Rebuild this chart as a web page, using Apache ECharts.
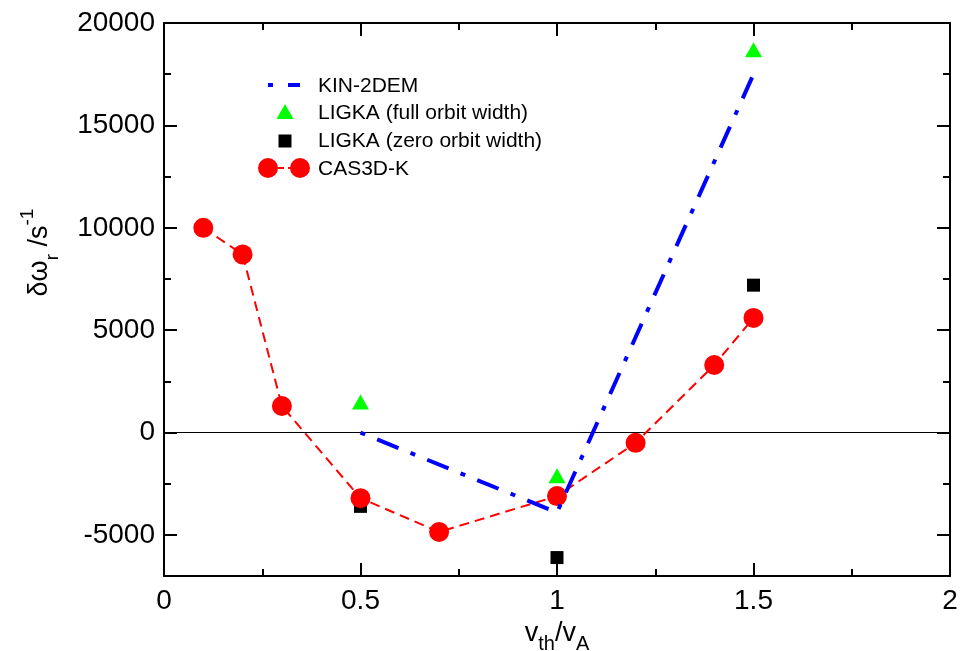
<!DOCTYPE html>
<html>
<head>
<meta charset="utf-8">
<script src="https://cdn.jsdelivr.net/npm/echarts@6/dist/echarts.min.js"></script>
<style>
html,body{margin:0;padding:0;background:#fff;}
#chart{width:963px;height:651px;}
</style>
</head>
<body>
<div id="chart"></div>
<script>
// ---- data ----
const kinX = [0.5, 1.0, 1.5];
const kinY = [0, -3900, 17500];
const ligkaFullX = [0.5, 1.0, 1.5];
const ligkaFullY = [1500, -2100, 18700];
const ligkaZeroX = [0.5, 1.0, 1.5];
const ligkaZeroY = [-3600, -6100, 7200];
const casX = [0.1, 0.2, 0.3, 0.5, 0.7, 1.0, 1.2, 1.4, 1.5];
const casY = [10000, 8700, 1300, -3200, -4850, -3100, -500, 3300, 5600];
const yMajorTicks = [-5000, 0, 5000, 10000, 15000, 20000];
const yMinorTicks = [-2500, 2500, 7500, 12500, 17500];
const xTickLabels = ['0', '0.5', '1', '1.5', '2'];
const legendNames = ['KIN-2DEM', 'LIGKA (full orbit width)', 'LIGKA (zero orbit width)', 'CAS3D-K'];

const zip = (xs, ys) => xs.map((x, i) => [x, ys[i]]);
const FONT = "'Liberation Sans', Arial, sans-serif";

const chart = echarts.init(document.getElementById('chart'), null, {renderer: 'canvas'});

function yAxisDef(pos, ticks, len, showLine, showLabel, extra) {
  return Object.assign({
    type: 'value', position: pos, min: -7000, max: 20000, gridIndex: 0,
    axisLine: {show: showLine, onZero: false, lineStyle: {color: '#000', width: 2}},
    axisTick: {show: true, inside: true, length: len, customValues: ticks, lineStyle: {color: '#000', width: 2}},
    axisLabel: {show: showLabel, customValues: ticks, formatter: v => String(v), color: '#000',
      fontSize: 28, fontFamily: FONT, margin: 9},
    splitLine: {show: false}
  }, extra || {});
}

function xAxisDef(pos, showLabel, extra) {
  return Object.assign({
    type: 'value', position: pos, min: 0, max: 2, interval: 0.5, gridIndex: 0,
    axisLine: {show: true, onZero: false, lineStyle: {color: '#000', width: 2}},
    axisTick: {show: true, inside: true, length: 13, lineStyle: {color: '#000', width: 2}},
    minorTick: {show: true, splitNumber: 2, length: 7, lineStyle: {color: '#000', width: 2}},
    axisLabel: {show: showLabel, color: '#000', fontSize: 28, fontFamily: FONT, margin: 11,
      formatter: v => xTickLabels[Math.round(v / 0.5)]},
    splitLine: {show: false}
  }, extra || {});
}

const option = {
  animation: false,
  backgroundColor: '#fff',
  grid: {left: 164, right: 13, top: 23, bottom: 75, containLabel: false, outerBoundsMode: 'none'},
  xAxis: [
    xAxisDef('bottom', true, {
      name: '{b|v}{s|th}{b|/v}{s|A}', nameLocation: 'middle', nameGap: 38,
      nameTextStyle: {color: '#000', fontFamily: FONT,
        rich: {b: {fontSize: 27, fontFamily: FONT, color: '#000', lineHeight: 40, verticalAlign: 'middle'},
               s: {fontSize: 20, fontFamily: FONT, color: '#000', lineHeight: 18, verticalAlign: 'bottom'}}}
    }),
    xAxisDef('top', false)
  ],
  yAxis: [
    yAxisDef('left', yMajorTicks, 13, true, true, {
      name: '{b|δω}{s|r}{b| /s}{p|-1}', nameLocation: 'middle', nameRotate: 90, nameGap: 102,
      nameTextStyle: {color: '#000', fontFamily: FONT, padding: [0, 0, 0, 94],
        rich: {b: {fontSize: 27, fontFamily: FONT, color: '#000', lineHeight: 44, verticalAlign: 'middle'},
               s: {fontSize: 19, fontFamily: FONT, color: '#000', lineHeight: 18, verticalAlign: 'bottom'},
               p: {fontSize: 19, fontFamily: FONT, color: '#000', lineHeight: 18, verticalAlign: 'top'}}}
    }),
    yAxisDef('left', yMinorTicks, 7, false, false),
    yAxisDef('right', yMajorTicks, 13, true, false),
    yAxisDef('right', yMinorTicks, 7, false, false)
  ],
  series: [
    {
      name: legendNames[3], type: 'line', data: zip(casX, casY), z: 3,
      symbol: 'circle', symbolSize: 20,
      itemStyle: {color: '#ff0000', opacity: 1},
      lineStyle: {color: '#ff0000', width: 2, type: [10, 6]},
      markLine: {silent: true, symbol: 'none', label: {show: false},
        lineStyle: {color: '#000', width: 1, type: 'solid'}, data: [{yAxis: 0}], z: 1}
    },
    {
      name: legendNames[0], type: 'line', data: zip(kinX, kinY), z: 4,
      symbol: 'none',
      lineStyle: {color: '#0000ff', width: 4, type: [23, 13, 5, 13], dashOffset: 36, cap: 'butt'}
    },
    {
      name: legendNames[1], type: 'scatter', data: zip(ligkaFullX, ligkaFullY), z: 5,
      symbol: 'triangle', symbolSize: [17, 15],
      itemStyle: {color: '#00ff00', opacity: 1}
    },
    {
      name: legendNames[2], type: 'scatter', data: zip(ligkaZeroX, ligkaZeroY), z: 2,
      symbol: 'rect', symbolSize: 13,
      itemStyle: {color: '#000', opacity: 1}
    }
  ],
  graphic: [
    {type: 'rect', shape: {x: 268, y: 83, width: 5, height: 4}, style: {fill: '#0000ff'}},
    {type: 'rect', shape: {x: 288, y: 83, width: 12, height: 4}, style: {fill: '#0000ff'}},
    {type: 'polygon', shape: {points: [[285, 104], [276.5, 119], [293.5, 119]]}, style: {fill: '#00ff00'}},
    {type: 'rect', shape: {x: 278.5, y: 134.5, width: 13, height: 13}, style: {fill: '#000'}},
    {type: 'line', shape: {x1: 268, y1: 168, x2: 300, y2: 168}, style: {stroke: '#ff0000', lineWidth: 2, lineDash: [6, 4]}},
    {type: 'circle', shape: {cx: 268, cy: 168, r: 10}, style: {fill: '#ff0000'}},
    {type: 'circle', shape: {cx: 300, cy: 168, r: 10}, style: {fill: '#ff0000'}},
    {type: 'text', x: 318, y: 86, style: {text: legendNames[0], fontSize: 21, fontFamily: FONT, fill: '#000', verticalAlign: 'middle'}},
    {type: 'text', x: 318, y: 113, style: {text: legendNames[1], fontSize: 21, fontFamily: FONT, fill: '#000', verticalAlign: 'middle'}},
    {type: 'text', x: 318, y: 141, style: {text: legendNames[2], fontSize: 21, fontFamily: FONT, fill: '#000', verticalAlign: 'middle'}},
    {type: 'text', x: 318, y: 169, style: {text: legendNames[3], fontSize: 21, fontFamily: FONT, fill: '#000', verticalAlign: 'middle'}}
  ]
};
chart.setOption(option);
</script>
</body>
</html>
